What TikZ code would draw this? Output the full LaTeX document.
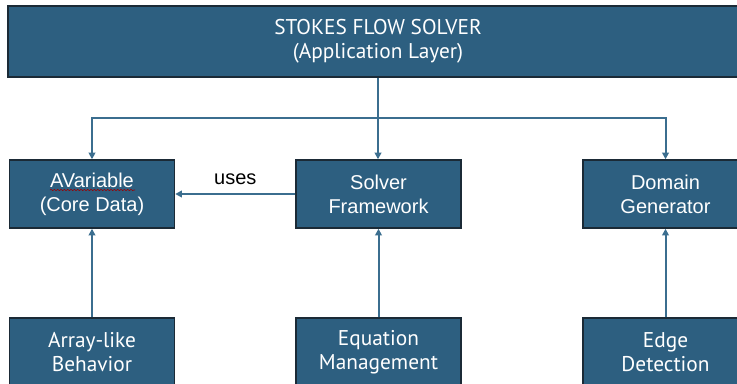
\documentclass[tikz,border=0pt]{standalone}
\usepackage{fontspec}
\setmainfont{Liberation Sans}
\newfontfamily\narrowfont{PT Sans}
\usetikzlibrary{arrows.meta,positioning,decorations.pathmorphing}

\definecolor{boxfill}{HTML}{2D5F80}
\definecolor{boxedge}{HTML}{1B2A36}
\definecolor{linkblue}{HTML}{3B6E8F}

\begin{document}
\begin{tikzpicture}[
    x=0.75pt, y=-0.75pt,
    box/.style={rectangle, draw=boxedge, line width=1.1pt, fill=boxfill,
                text=white, align=center, minimum width=123.75pt,
                minimum height=51pt, font=\fontsize{15}{18}\selectfont},
    narrowbox/.style={box, font=\narrowfont\fontsize{16}{18}\selectfont},
    link/.style={line width=1.5pt, linkblue},
    arrow/.style={link, -{Triangle[length=5pt, width=5pt]}},
]
\useasboundingbox (0,0) rectangle (737,383);
\clip (0,0) rectangle (737,383);

% Application layer
\node[narrowbox, minimum width=555pt, minimum height=53.25pt] (app) at (378,41.5)
    {STOKES FLOW SOLVER\\(Application Layer)};

% Core components
\node[box] (avar) at (92,194) {AVariable\\(Core Data)};
\node[box] (solver) at (378.5,194) {Solver\\Framework};
\node[box] (domain) at (665.5,194) {Domain\\Generator};

% Supporting parts
\node[narrowbox] (array) at (92,352) {Array-like\\Behavior};
\node[narrowbox] (equation) at (378.5,352) {Equation\\Management};
\node[narrowbox] (edge) at (665.5,352) {Edge\\Detection};

% Spell-check squiggle under AVariable
\draw[red!60!black, line width=0.4pt,
      decorate, decoration={snake, segment length=2.5pt, amplitude=0.5pt}]
    (50,190) -- (135,190);

% Split from the application layer
\coordinate (split) at (378,118);
\draw[link] (app.south -| split) -- (split);
\draw[arrow] (split) -| (avar.north);
\draw[arrow] (split) -- (solver.north -| split);
\draw[arrow] (split) -| (domain.north);

% Dependencies
\draw[arrow] (solver.west) -- node[above=3pt, text=black,
    font=\fontsize{15}{18}\selectfont] {uses} (avar.east);
\draw[arrow] (array.north) -- (avar.south);
\draw[arrow] (equation.north) -- (solver.south);
\draw[arrow] (edge.north) -- (domain.south);
\end{tikzpicture}
\end{document}
